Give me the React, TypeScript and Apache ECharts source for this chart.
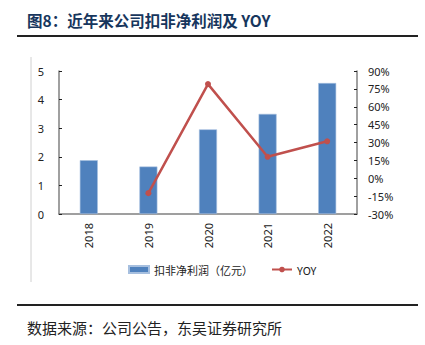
import React, { useEffect, useRef } from "react";
import * as echarts from "echarts";

const years = ["2018", "2019", "2020", "2021", "2022"];
const profit = [1.88, 1.66, 2.96, 3.5, 4.58];
const yoy = [null, -12.5, 79, 18, 31];
const leftTicks = { min: 0, max: 5, interval: 1 };
const rightTicks = { min: -30, max: 90, interval: 15 };

const titleText = "图8：近年来公司扣非净利润及 YOY";
const sourceText = "数据来源：公司公告，东吴证券研究所";
const barName = "扣非净利润（亿元）";
const lineName = "YOY";

export default function App() {
  const ref = useRef<HTMLDivElement>(null);
  useEffect(() => {
    if (!ref.current) return;
    const chart = echarts.init(ref.current, null, { renderer: "svg" });
    const axisColor = "#808080";
    const labelFont = { fontSize: 11, color: "#222", fontFamily: "Noto Sans" };
    chart.setOption({
      animation: false,
      backgroundColor: "#fff",
      grid: { left: 59, right: 68, top: 71, bottom: 131 },
      legend: {
        left: 123,
        top: 259,
        itemGap: 18,
        textStyle: { fontSize: 11, color: "#222", fontFamily: "Noto Sans CJK SC" },
        data: [
          { name: barName, icon: "rect", itemStyle: { color: "#4f81bd" } },
          { name: lineName },
        ],
        itemWidth: 20,
        itemHeight: 7,
      },
      xAxis: {
        type: "category",
        data: years,
        boundaryGap: true,
        axisLine: { lineStyle: { color: axisColor, width: 1.5 } },
        axisTick: { inside: true, length: 3, lineStyle: { color: "#222" } },
        axisLabel: { ...labelFont, rotate: 90, margin: 9 },
      },
      yAxis: [
        {
          type: "value",
          ...leftTicks,
          splitLine: { show: false },
          axisLine: { show: true, lineStyle: { color: axisColor, width: 1.5 } },
          axisTick: { show: true, inside: true, length: 3, lineStyle: { color: "#222" } },
          axisLabel: { ...labelFont, margin: 15 },
        },
        {
          type: "value",
          ...rightTicks,
          splitLine: { show: false },
          axisLine: { show: true, lineStyle: { color: axisColor, width: 1.5 } },
          axisTick: { show: true, inside: true, length: 3, lineStyle: { color: "#222" } },
          axisLabel: { ...labelFont, margin: 11, formatter: "{value}%" },
        },
      ],
      series: [
        {
          name: barName,
          type: "bar",
          data: profit,
          barWidth: 18,
          itemStyle: { color: "#4f81bd", borderColor: "#a6bfdf", borderWidth: 0.6 },
        },
        {
          name: lineName,
          type: "line",
          yAxisIndex: 1,
          data: yoy,
          symbol: "circle",
          symbolSize: 6,
          lineStyle: { color: "#c0504d", width: 2.5 },
          itemStyle: { color: "#c0504d" },
        },
      ],
      graphic: [
        {
          type: "text",
          left: 27,
          top: 12,
          style: {
            text: titleText,
            fontSize: 15.5,
            fontWeight: "bold",
            fill: "#17365d",
            fontFamily: "Noto Sans CJK SC",
          },
        },
        {
          type: "line",
          shape: { x1: 17, y1: 36, x2: 418, y2: 36 },
          style: { stroke: "#222", lineWidth: 2 },
        },
        {
          type: "line",
          shape: { x1: 31, y1: 57, x2: 31, y2: 282 },
          style: { stroke: "#d0d0d0", lineWidth: 1 },
        },
        {
          type: "line",
          shape: { x1: 17, y1: 305, x2: 418, y2: 305 },
          style: { stroke: "#222", lineWidth: 2 },
        },
        {
          type: "text",
          left: 27,
          top: 320,
          style: {
            text: sourceText,
            fontSize: 15,
            fill: "#222",
            fontFamily: "Noto Sans CJK SC",
          },
        },
      ],
    });
    return () => chart.dispose();
  }, []);
  return (
    <div
      ref={ref}
      style={{ position: "fixed", left: 0, top: 0, width: 425, height: 345 }}
    />
  );
}
